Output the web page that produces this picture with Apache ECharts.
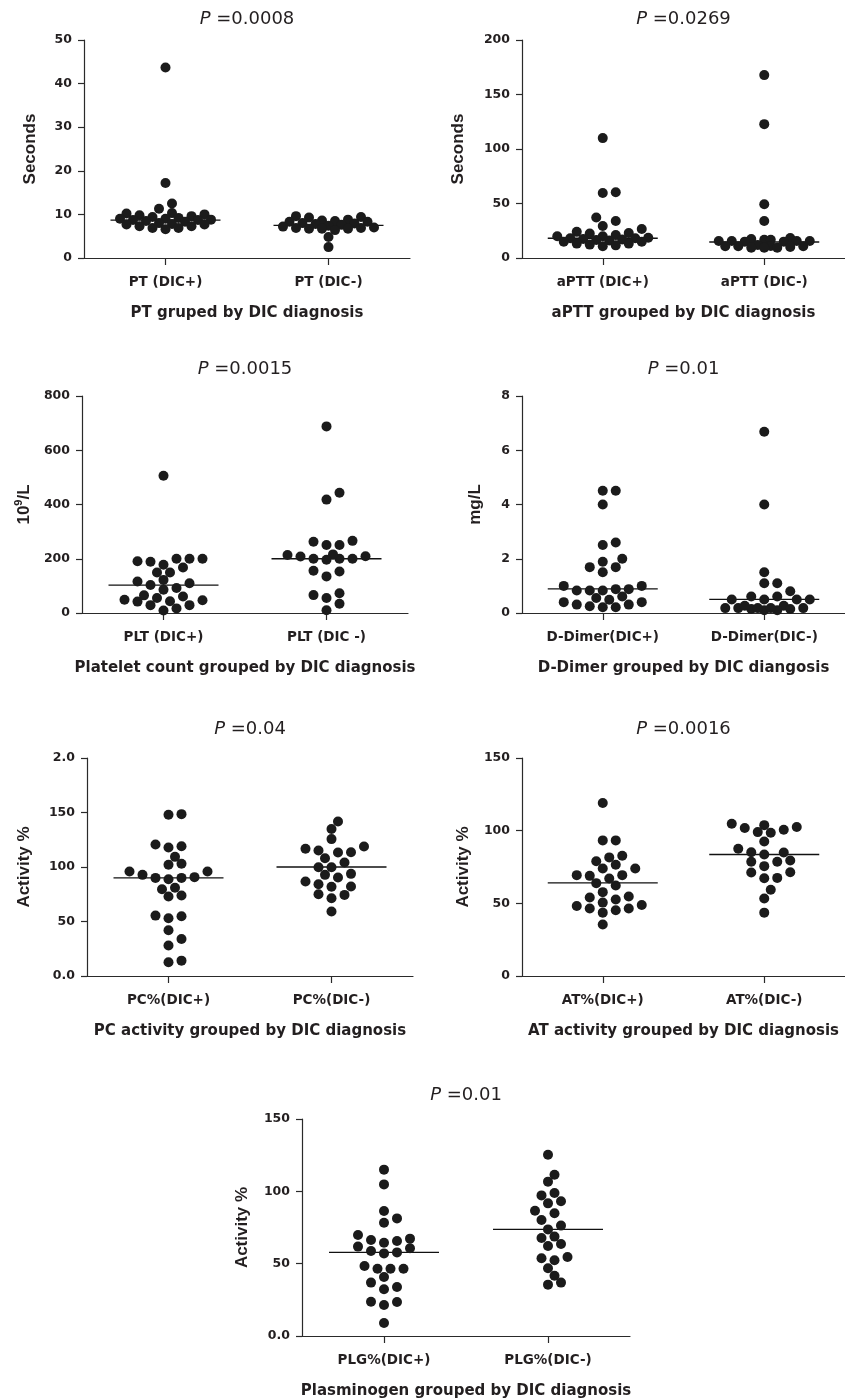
<!DOCTYPE html>
<html lang="en">
<head>
<meta charset="UTF-8">
<title>Coagulation markers grouped by DIC diagnosis</title>
<style>
  html, body { margin: 0; padding: 0; background: #fff; }
  #chart { width: 845px; height: 1400px; }
</style>
</head>
<body>
<div id="chart"></div>
<script src="https://cdn.jsdelivr.net/npm/echarts@6/dist/echarts.min.js"></script>
<script>
// values, one array per group
var ptPos = [43.7, 17.2, 12.5, 11.3, 10.3, 10.2, 10.0, 9.8, 9.6, 9.4, 9.2, 9.0, 9.0, 8.8, 8.7, 8.7, 8.5, 8.3, 8.0, 7.8, 7.7, 7.7, 7.3, 7.3, 6.9, 6.9, 6.6];
var ptNeg = [9.6, 9.4, 9.3, 8.8, 8.6, 8.5, 8.3, 8.3, 8.0, 7.9, 7.8, 7.6, 7.4, 7.2, 7.0, 6.9, 6.9, 6.7, 6.7, 6.7, 6.4, 4.8, 2.5];
var apttPos = [110, 60.3, 59.7, 37.1, 34.0, 29.4, 26.6, 24.0, 23.0, 22.4, 21.0, 20.0, 19.9, 18.5, 18.1, 18.1, 17.5, 17.0, 16.5, 16.0, 15.0, 15.0, 13.2, 13.2, 12.3, 11.6, 10.7];
var apttNeg = [167.8, 122.8, 49.3, 34.0, 18.4, 17.5, 16.8, 16.8, 15.6, 15.6, 15.6, 15.6, 15.0, 15.0, 12.0, 11.0, 10.7, 10.7, 10.7, 10.2, 9.5, 9.5, 9.5];
var pltPos = [506, 200, 191, 178, 168, 189, 200, 200, 149, 149, 122, 110, 116, 103, 92, 86, 65, 55, 61, 49, 47, 42, 43, 29, 29, 9, 17];
var pltNeg = [688, 443, 418, 263, 251, 251, 266, 209, 200, 200, 216, 196, 200, 208, 214, 156, 153, 135, 73, 55, 66, 34, 10];
var ddPos = [4.51, 4.51, 4.0, 2.51, 2.6, 2.0, 1.89, 1.69, 1.69, 1.5, 1.0, 1.0, 0.88, 0.83, 0.83, 0.83, 0.88, 0.61, 0.55, 0.49, 0.40, 0.40, 0.31, 0.31, 0.21, 0.21, 0.25];
var ddNeg = [6.68, 4.0, 1.5, 1.1, 1.1, 0.8, 0.5, 0.5, 0.61, 0.61, 0.5, 0.5, 0.18, 0.18, 0.27, 0.15, 0.10, 0.18, 0.10, 0.15, 0.27, 0.18, 0.18];
var pcPos = [147.9, 148.5, 119.1, 117.9, 120.7, 109.3, 102.0, 102.9, 95.9, 95.9, 92.8, 90.7, 90.0, 88.8, 90.0, 79.6, 80.9, 72.9, 73.8, 55.4, 54.8, 53.0, 42.0, 34.0, 27.9, 12.6, 14.1];
var pcNeg = [141.8, 134.8, 125.6, 113.6, 118.8, 113.3, 115.2, 116.7, 108.1, 99.8, 104.1, 99.8, 93.7, 92.8, 90.4, 86.7, 82.1, 81.8, 84.2, 75.0, 74.4, 71.4, 59.1];
var atPos = [119.0, 93.3, 93.3, 81.6, 82.7, 79.0, 76.5, 74.0, 74.0, 69.4, 68.9, 69.4, 67.1, 62.3, 63.9, 57.7, 54.0, 54.7, 50.5, 48.2, 48.9, 52.6, 46.4, 45.3, 46.4, 43.6, 35.4];
var atNeg = [103.8, 101.8, 99.0, 98.6, 100.6, 102.5, 104.8, 92.6, 85.2, 83.6, 87.5, 85.0, 78.6, 78.6, 79.5, 75.6, 71.2, 71.4, 67.5, 67.3, 59.3, 53.3, 43.6];
var plgPos = [115.0, 104.8, 86.4, 81.3, 78.3, 69.8, 67.3, 66.4, 65.7, 64.5, 61.8, 60.6, 58.8, 57.1, 57.8, 48.4, 46.5, 46.5, 46.5, 40.8, 36.9, 32.3, 33.9, 23.5, 23.7, 21.4, 9.0];
var plgNeg = [125.3, 111.5, 106.7, 98.8, 97.2, 91.7, 93.1, 84.8, 86.6, 80.2, 76.3, 73.7, 67.7, 68.7, 62.2, 63.6, 54.6, 52.3, 53.7, 46.8, 41.7, 35.5, 36.9];

// horizontal line in each group (as drawn)
var medians = [[8.7, 7.5], [18.1, 14.7], [103, 200], [0.89, 0.5], [90, 100], [64.1, 83.6], [57.8, 73.7]];

var pValues = ['0.0008', '0.0269', '0.0015', '0.01', '0.04', '0.0016', '0.01'];
var groupNames = [
    ['PT (DIC+)', 'PT (DIC-)'],
    ['aPTT (DIC+)', 'aPTT (DIC-)'],
    ['PLT (DIC+)', 'PLT (DIC -)'],
    ['D-Dimer(DIC+)', 'D-Dimer(DIC-)'],
    ['PC%(DIC+)', 'PC%(DIC-)'],
    ['AT%(DIC+)', 'AT%(DIC-)'],
    ['PLG%(DIC+)', 'PLG%(DIC-)']
];
var xTitles = [
    'PT gruped by DIC diagnosis',
    'aPTT grouped by DIC diagnosis',
    'Platelet count grouped by DIC diagnosis',
    'D-Dimer grouped by DIC diangosis',
    'PC activity grouped by DIC diagnosis',
    'AT activity grouped by DIC diagnosis',
    'Plasminogen grouped by DIC diagnosis'
];
var yTitles = ['Seconds', 'Seconds', '{n|10}{sup|9}{n|/L}', 'mg/L', 'Activity %', 'Activity %', 'Activity %'];
var yTicks = [
    ['0', '10', '20', '30', '40', '50'],
    ['0', '50', '100', '150', '200'],
    ['0', '200', '400', '600', '800'],
    ['0', '2', '4', '6', '8'],
    ['0.0', '50', '100', '150', '2.0'],
    ['0', '50', '100', '150'],
    ['0.0', '50', '100', '150']
];
var yMax = [50, 200, 800, 8, 200, 150, 150];
var yStep = [10, 50, 200, 2, 50, 50, 50];

// layout of the seven panels
var panels = [
    {data: [ptPos, ptNeg],     grid: {left: 84,  top: 40,   width: 326, height: 218}, nameGap: 45, titleTop: 10},
    {data: [apttPos, apttNeg], grid: {left: 522, top: 40,   width: 323, height: 218}, nameGap: 55, titleTop: 10},
    {data: [pltPos, pltNeg],   grid: {left: 82,  top: 396,  width: 326, height: 217}, nameGap: 49, titleTop: 360},
    {data: [ddPos, ddNeg],     grid: {left: 522, top: 396,  width: 323, height: 217}, nameGap: 38, titleTop: 360},
    {data: [pcPos, pcNeg],     grid: {left: 87,  top: 758,  width: 326, height: 218}, nameGap: 54, titleTop: 720},
    {data: [atPos, atNeg],     grid: {left: 522, top: 758,  width: 323, height: 218}, nameGap: 50, titleTop: 720},
    {data: [plgPos, plgNeg],   grid: {left: 302, top: 1119, width: 328, height: 217}, nameGap: 51, titleTop: 1086}
];

var ink = '#231f20';
var dotSize = 10;
var halfStep = 6.5;   // px between neighbouring swarm columns
var maxCol = 7;       // widest column used, in half steps
var minDist = 9.5;    // px, dots closer than this are pushed sideways
var lineHalf = 55;    // px, half width of the group line

// dot-plot layout: sideways column for each value, lowest values first;
// when the swarm is full the dot goes where it overlaps least
function swarm(values, pxPerUnit) {
    var order = values.map(function (v, i) { return i; });
    order.sort(function (a, b) { return values[a] - values[b]; });
    var placed = [];
    var cols = new Array(values.length);
    order.forEach(function (i) {
        var y = values[i] * pxPerUnit;
        var best = 0, bestD = -1;
        for (var m = 0; m <= maxCol; m++) {
            var cands = m === 0 ? [0] : [m, -m];
            for (var c = 0; c < cands.length; c++) {
                var x = cands[c] * halfStep;
                var d = Infinity;
                placed.forEach(function (p) {
                    var dx = p[0] - x, dy = p[1] - y;
                    d = Math.min(d, Math.sqrt(dx * dx + dy * dy));
                });
                if (d >= minDist) {
                    placed.push([x, y]);
                    cols[i] = cands[c];
                    return;
                }
                if (d > bestD + 0.5) { bestD = d; best = cands[c]; }
            }
        }
        placed.push([best * halfStep, y]);
        cols[i] = best;
    });
    return cols;
}

var grids = [], xAxes = [], yAxes = [], titles = [], series = [];

panels.forEach(function (p, k) {
    grids.push(p.grid);
    var names = groupNames[k];
    var ticks = yTicks[k];
    var step = yStep[k];

    titles.push({
        text: '{i|P} =' + pValues[k],
        left: p.grid.left + p.grid.width / 2,
        top: p.titleTop,
        textAlign: 'center',
        padding: 0,
        textStyle: {
            fontFamily: 'DejaVu Sans', fontSize: 18, fontWeight: 'normal', color: ink,
            rich: {i: {fontFamily: 'DejaVu Sans', fontSize: 18, fontStyle: 'italic', color: ink}}
        }
    });

    xAxes.push({
        type: 'value', gridIndex: k, min: 0, max: 2,
        name: xTitles[k], nameLocation: 'middle', nameGap: 48,
        nameTextStyle: {fontFamily: 'DejaVu Sans', fontSize: 15, fontWeight: 'bold', color: ink},
        splitLine: {show: false},
        axisLine: {show: true, onZero: false, lineStyle: {color: '#2a2a2a', width: 1.2}},
        axisTick: {show: true, customValues: [0.5, 1.5], length: 7, lineStyle: {color: '#2a2a2a', width: 1.2}},
        axisLabel: {
            customValues: [0.5, 1.5], margin: 17,
            fontFamily: 'DejaVu Sans', fontSize: 13.5, fontWeight: 'bold', color: ink,
            formatter: function (v) { return v < 1 ? names[0] : names[1]; }
        }
    });

    yAxes.push({
        type: 'value', gridIndex: k, min: 0, max: yMax[k], interval: step,
        name: yTitles[k], nameLocation: 'middle', nameGap: p.nameGap, nameRotate: 90,
        nameTextStyle: {
            fontFamily: 'Liberation Sans', fontSize: 17, fontWeight: 'bold', color: ink,
            rich: {
                n: {fontFamily: 'Liberation Sans', fontSize: 17, fontWeight: 'bold', color: ink, lineHeight: 20, verticalAlign: 'bottom'},
                sup: {fontFamily: 'Liberation Sans', fontSize: 11, fontWeight: 'bold', color: ink, lineHeight: 12, verticalAlign: 'top'}
            }
        },
        splitLine: {show: false},
        axisLine: {show: true, lineStyle: {color: '#2a2a2a', width: 1.2}},
        axisTick: {show: true, length: 6, lineStyle: {color: '#2a2a2a', width: 1.2}},
        axisLabel: {
            margin: 12, fontFamily: 'DejaVu Sans', fontSize: 12.5, fontWeight: 'bold', color: ink,
            formatter: function (v) { return ticks[Math.round(v / step)]; }
        }
    });

    var pxPerUnit = p.grid.height / yMax[k];
    var unitPerPx = 1 / (p.grid.width / 2);
    p.data.forEach(function (vals, g) {
        var center = g + 0.5;
        var cols = swarm(vals, pxPerUnit);
        var med = medians[k][g];
        series.push({
            type: 'line', xAxisIndex: k, yAxisIndex: k, z: 1,
            symbol: 'none', silent: true,
            lineStyle: {color: '#111', width: 1.3},
            data: [[center - lineHalf * unitPerPx, med], [center + lineHalf * unitPerPx, med]]
        });
        series.push({
            type: 'scatter', xAxisIndex: k, yAxisIndex: k, z: 2,
            symbol: 'circle', symbolSize: dotSize, silent: true,
            itemStyle: {color: '#1b1b1b', opacity: 1},
            data: vals.map(function (v, i) { return [center + cols[i] * halfStep * unitPerPx, v]; })
        });
    });
});

var chart = echarts.init(document.getElementById('chart'));
chart.setOption({
    animation: false,
    backgroundColor: '#fff',
    title: titles,
    grid: grids,
    xAxis: xAxes,
    yAxis: yAxes,
    series: series
});
</script>
</body>
</html>
